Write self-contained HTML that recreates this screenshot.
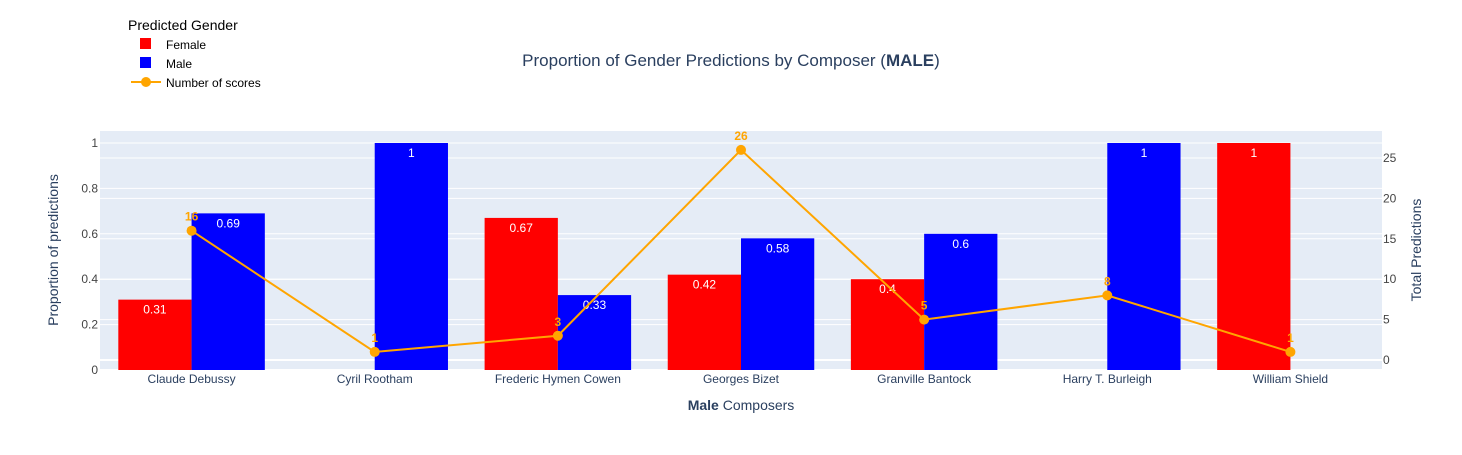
<!DOCTYPE html>
<html><head><meta charset="utf-8"><style>
body{margin:0;background:#fff;font-family:"Liberation Sans",Arial,sans-serif}
svg text{font-family:"Liberation Sans",Arial,sans-serif}
</style></head><body>
<svg id="c" width="1462" height="450" xmlns="http://www.w3.org/2000/svg"></svg>
<script>
const categories=["Claude Debussy","Cyril Rootham","Frederic Hymen Cowen","Georges Bizet","Granville Bantock","Harry T. Burleigh","William Shield"];
const femaleVals=[0.31,0,0.67,0.42,0.4,0,1];
const maleVals=[0.69,1,0.33,0.58,0.6,1,0];
const countVals=[16,1,3,26,5,8,1];
const leftTicks=[0,0.2,0.4,0.6,0.8,1];
const rightTicks=[0,5,10,15,20,25];

const svg=document.getElementById('c');
const NS='http://www.w3.org/2000/svg';
function mk(t,a,p){const e=document.createElementNS(NS,t);for(const k in a)e.setAttribute(k,a[k]);(p||svg).appendChild(e);return e;}
const X0=100,X1=1382,YT=131,YB=370;
const bw=(X1-X0)/categories.length;
const xc=i=>X0+bw*(i+0.5);
const yL=v=>370-v*227;
const yR=v=>360-v*8.08;

const bg=mk('rect',{x:X0,y:YT,width:X1-X0,height:YB-YT,fill:'#e5ecf6'});


leftTicks.forEach(t=>{
  const l=mk('line',{x1:X0,x2:X1,y1:yL(t),y2:yL(t),stroke:'#fff','stroke-width':t===0?2:1});
  
  
  const tx=mk('text',{x:98,y:yL(t)+4,'text-anchor':'end','font-size':12,fill:'#444'});
  tx.textContent=String(t);
  
  
});
rightTicks.forEach(t=>{
  const l=mk('line',{x1:X0,x2:X1,y1:yR(t),y2:yR(t),stroke:'#fff','stroke-width':t===0?2:1});
  
  
  const tx=mk('text',{x:1383,y:yR(t)+4,'font-size':12,fill:'#444'});
  tx.textContent=String(t);
  
  
});
const barW=bw*0.4;
categories.forEach((c,i)=>{
  [[femaleVals[i],'#ff0000',xc(i)-barW,'female-bar'],[maleVals[i],'#0000ff',xc(i),'male-bar']].forEach(([v,col,x,nm])=>{
    if(v<=0)return;
    const r=mk('rect',{x:x,y:yL(v),width:barW,height:yL(0)-yL(v),fill:col});
    
    
    const t=mk('text',{x:x+barW/2,y:yL(v)+14,'text-anchor':'middle','font-size':12,fill:'#fff'});
    t.textContent=String(v);
    
    
  });
  const tx=mk('text',{x:xc(i),y:383,'text-anchor':'middle','font-size':12,fill:'#2a3f5f'});
  tx.textContent=c;
  
  
});
const pts=countVals.map((v,i)=>xc(i)+','+yR(v)).join(' ');
const pl=mk('polyline',{points:pts,fill:'none',stroke:'#ffa500','stroke-width':2});


countVals.forEach((v,i)=>{
  const ci=mk('circle',{cx:xc(i),cy:yR(v),r:5,fill:'#ffa500'});
  
  
  const t=mk('text',{x:xc(i),y:yR(v)-10,'text-anchor':'middle','font-size':12,'font-weight':'bold',fill:'#ffa500'});
  t.textContent=String(v);
  
  
});
</script>
<svg width="1462" height="450" style="position:absolute;left:0;top:0" xmlns="http://www.w3.org/2000/svg">
<text x="731" y="66" text-anchor="middle" font-size="17" fill="#2a3f5f">Proportion of Gender Predictions by Composer (<tspan font-weight="bold">MALE</tspan>)</text>
<text x="741" y="410" text-anchor="middle" font-size="14" fill="#2a3f5f"><tspan font-weight="bold">Male</tspan> Composers</text>
<text transform="translate(58,250) rotate(-90)" text-anchor="middle" font-size="14" fill="#2a3f5f">Proportion of predictions</text>
<text transform="translate(1421,250) rotate(-90)" text-anchor="middle" font-size="14" fill="#2a3f5f">Total Predictions</text>
<g>
<text x="128" y="30" font-size="14" fill="#000">Predicted Gender</text>
<rect x="140" y="38" width="11" height="11" fill="#ff0000"/>
<text x="166" y="49" font-size="12" fill="#000">Female</text>
<rect x="140" y="57" width="11" height="11" fill="#0000ff"/>
<text x="166" y="68" font-size="12" fill="#000">Male</text>
<line x1="131" x2="161" y1="82" y2="82" stroke="#ffa500" stroke-width="2"/>
<circle cx="146" cy="82" r="5" fill="#ffa500"/>
<text x="166" y="87" font-size="12" fill="#000">Number of scores</text>
</g>
</svg>
</body></html>
